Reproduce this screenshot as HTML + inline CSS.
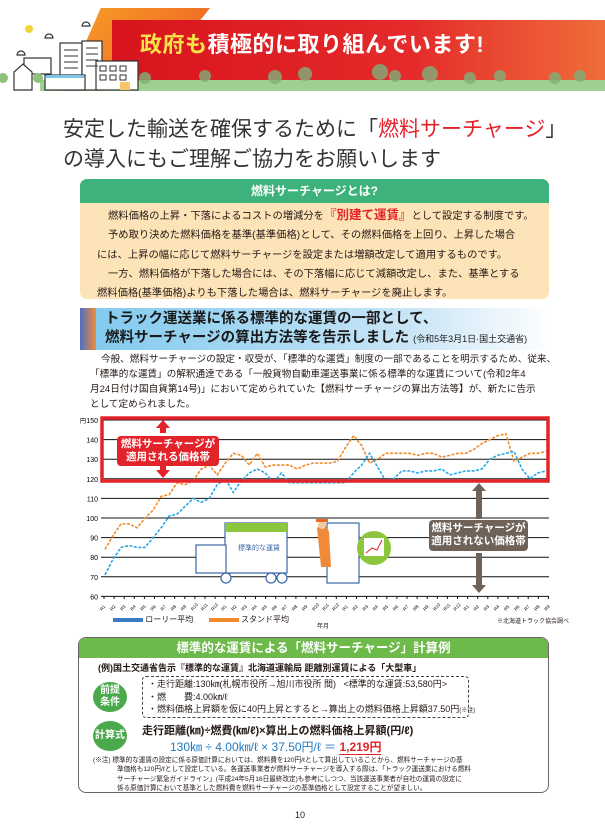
<!DOCTYPE html>
<html><head><meta charset="utf-8">
<style>
*{margin:0;padding:0;box-sizing:border-box}
body{width:605px;height:839px;background:#fff;position:relative;overflow:hidden;font-family:"Liberation Sans","Noto Sans CJK JP",sans-serif;color:#231815}
.a{position:absolute}
.p{font-size:10.3px;line-height:19.3px;white-space:nowrap}
</style></head><body>

<!-- header banner -->
<div class="a" style="left:40px;top:80px;width:565px;height:11px;background:#9fd08f"></div>
<div class="a" style="left:70px;top:8px;width:140px;height:70px;background:linear-gradient(135deg,#f7a027,#ee5a24);clip-path:polygon(22% 0,100% 0,60% 100%,0 100%)"></div>
<div class="a" style="left:112px;top:20px;width:493px;height:60px;background:linear-gradient(90deg,#d7141d,#e42a2a 60%,#ef6d3a)"></div>
<div class="a" style="left:140px;top:27px;font-size:22px;font-weight:bold;color:#fff;letter-spacing:0.5px;white-space:nowrap"><span style="color:#f5e34a">政府も</span>積極的に取り組んでいます!</div>
<svg class="a" style="left:0;top:0" width="605" height="95">
 <g fill="#7fb07a" opacity="0.8">
  <circle cx="145" cy="78" r="6"/><circle cx="205" cy="76" r="6"/><circle cx="275" cy="77" r="7"/><circle cx="305" cy="74" r="7"/><circle cx="380" cy="72" r="8"/><circle cx="395" cy="76" r="6"/><circle cx="430" cy="74" r="8"/><circle cx="470" cy="78" r="6"/><circle cx="500" cy="76" r="6"/><circle cx="555" cy="78" r="6"/><circle cx="580" cy="76" r="6"/>
 </g>
 <circle cx="29" cy="29" r="4" fill="#f2d33c"/>
 <path d="M45 38 a4 4 0 0 1 8 0z M17 55 a4 4 0 0 1 8 0z M82 26 a4 4 0 0 1 8 0z" fill="none" stroke="#333" stroke-width="1.2"/>
 <g fill="#fff" stroke="#333" stroke-width="1.2">
  <rect x="60" y="43" width="22" height="47"/><rect x="82" y="41" width="20" height="49"/>
  <rect x="24" y="58" width="27" height="16"/><path d="M14 90 v-18 l9 -8 l9 8 v18z"/>
  <rect x="45" y="75" width="40" height="15"/><rect x="96" y="61" width="42" height="29"/>
 </g>
 <g stroke="#333" stroke-width="1"><path d="M64 50h14M64 56h14M64 62h14M64 68h14M86 48h12M86 54h12M86 60h12M86 66h12"/></g>
 <g fill="none" stroke="#333" stroke-width="1"><rect x="100" y="66" width="6" height="5"/><rect x="110" y="66" width="6" height="5"/><rect x="120" y="66" width="6" height="5"/><rect x="100" y="75" width="6" height="5"/><rect x="110" y="75" width="6" height="5"/><rect x="120" y="75" width="6" height="5"/></g>
 <rect x="46" y="75" width="38" height="3" fill="#7ec3e8"/>
 <rect x="120" y="82" width="10" height="8" fill="#f7c66b"/>
 <circle cx="3" cy="78" r="5" fill="#8cc27a"/><circle cx="38" cy="78" r="5" fill="#8cc27a"/>
</svg>

<!-- subtitle -->
<div class="a" style="left:63px;top:115px;font-size:21px;line-height:30px;white-space:nowrap;color:#333">安定した輸送を確保するために「<span style="color:#e3232a">燃料サーチャージ</span>」<br>の導入にもご理解ご協力をお願いします</div>

<!-- box 1 -->
<div class="a" style="left:80px;top:179px;width:469px;height:120px;background:#fde3b8;border-radius:7px;overflow:hidden">
 <div style="height:24px;background:#3eb27b;color:#fff;font-weight:bold;font-size:12px;text-align:center;line-height:24px">燃料サーチャージとは?</div>
 <div class="p" style="padding:3px 0 0 17px;font-size:10.3px">
  <div style="padding-left:11px">燃料価格の上昇・下落によるコストの増減分を<b style="color:#e3232a;font-size:12.5px">『別建て運賃』</b>として設定する制度です。</div>
  <div style="padding-left:11px">予め取り決めた燃料価格を基準(基準価格)として、その燃料価格を上回り、上昇した場合</div>
  <div>には、上昇の幅に応じて燃料サーチャージを設定または増額改定して適用するものです。</div>
  <div style="padding-left:11px">一方、燃料価格が下落した場合には、その下落幅に応じて減額改定し、また、基準とする</div>
  <div>燃料価格(基準価格)よりも下落した場合は、燃料サーチャージを廃止します。</div>
 </div>
</div>

<!-- section heading -->
<div class="a" style="left:80px;top:308px;width:472px;height:42px;background:linear-gradient(90deg,#7fc9ee,#c9e5f6 70%,#fff)"></div>
<div class="a" style="left:80px;top:308px;width:16px;height:42px;background:linear-gradient(90deg,#4f6fc0,#f28a3a)"></div>
<div class="a" style="left:105px;top:310px;font-size:14.5px;font-weight:bold;line-height:19px;white-space:nowrap;color:#1a1a1a">トラック運送業に係る標準的な運賃の一部として、<br>燃料サーチャージの算出方法等を告示しました <span style="font-size:9px;font-weight:normal">(令和5年3月1日·国土交通省)</span></div>

<div class="a" style="left:90px;top:352px;font-size:9.6px;line-height:15px;white-space:nowrap">
<div style="padding-left:11px">今般、燃料サーチャージの設定・収受が、「標準的な運賃」制度の一部であることを明示するため、従来、</div>
<div>「標準的な運賃」の解釈通達である「一般貨物自動車運送事業に係る標準的な運賃について(令和2年4</div>
<div>月24日付け国自貨第14号)」において定められていた【燃料サーチャージの算出方法等】が、新たに告示</div>
<div>として定められました。</div>
</div>

<!-- chart -->
<svg id="ch" class="a" style="left:0;top:0" width="605" height="640"></svg>
<div class="a" style="left:117px;top:436px;width:102px;height:30px;background:#e3232a;border-radius:4px;color:#fff;font-weight:bold;font-size:10.5px;line-height:13px;text-align:center;padding-top:2px">燃料サーチャージが<br>適用される価格帯</div>
<div class="a" style="left:429px;top:520px;width:99px;height:31px;background:#6e6259;border-radius:4px;color:#fff;font-weight:bold;font-size:10.5px;line-height:13px;text-align:center;padding-top:2px">燃料サーチャージが<br>適用されない価格帯</div>

<!-- legend -->
<div class="a" style="left:113px;top:614px;font-size:8px;white-space:nowrap"><span style="display:inline-block;width:30px;height:4px;background:#3a7cc4;vertical-align:middle"></span> ローリー平均 &nbsp;&nbsp;&nbsp;&nbsp;&nbsp; <span style="display:inline-block;width:30px;height:4px;background:#f08a2a;vertical-align:middle"></span> スタンド平均</div>
<div class="a" style="left:317px;top:621px;font-size:6px">年月</div>
<div class="a" style="left:497px;top:616px;font-size:6px">※北海道トラック協会調べ</div>

<!-- box 2 -->
<div class="a" style="left:78px;top:637px;width:471px;height:156px;border:1.5px solid #666;border-radius:8px;overflow:hidden">
 <div style="height:20px;background:#6db94a;color:#fff;font-weight:bold;font-size:12.5px;text-align:center;line-height:20px">標準的な運賃による「燃料サーチャージ」計算例</div>
</div>
<div class="a" style="left:98px;top:661px;font-size:9px;font-weight:bold;white-space:nowrap">(例)国土交通省告示『標準的な運賃』北海道運輸局 距離別運賃による「大型車」</div>
<div class="a" style="left:93px;top:682px;width:34px;height:30px;border-radius:50%;background:#4aa94a;color:#fff;font-weight:bold;font-size:10px;line-height:12px;text-align:center;padding-top:3px">前提<br>条件</div>
<div class="a" style="left:142px;top:676px;width:327px;height:42px;border:1px dashed #444;border-radius:4px;font-size:9px;line-height:12.5px;padding:1px 0 0 5px;white-space:nowrap">
・走行距離:130㎞(札幌市役所→旭川市役所 間) &nbsp;&nbsp;<標準的な運賃:53,580円><br>・燃　　費:4.00㎞/ℓ<br>・燃料価格上昇額を仮に40円上昇とすると→算出上の燃料価格上昇額37.50円<span style="font-size:6px">(※注)</span></div>
<div class="a" style="left:93px;top:721px;width:34px;height:30px;border-radius:50%;background:#4aa94a;color:#fff;font-weight:bold;font-size:10px;line-height:30px;text-align:center">計算式</div>
<div class="a" style="left:142px;top:722px;font-size:11px;font-weight:bold;white-space:nowrap">走行距離(㎞)÷燃費(㎞/ℓ)×算出上の燃料価格上昇額(円/ℓ)</div>
<div class="a" style="left:170px;top:738px;font-size:12px;color:#1f7ac0;white-space:nowrap">130㎞ ÷ 4.00㎞/ℓ × 37.50円/ℓ ＝ <b style="color:#e3232a;border-bottom:1.5px solid #e3232a">1,219円</b></div>
<div class="a" style="left:93px;top:756px;font-size:6.6px;line-height:9.3px;white-space:nowrap">(※注) 標準的な運賃の設定に係る原価計算においては、燃料費を120円/ℓとして算出していることから、燃料サーチャージの基<br><span style="padding-left:24px">準価格も120円/ℓとして設定している。各運送事業者が燃料サーチャージを導入する際は、「トラック運送業における燃料</span><br><span style="padding-left:24px">サーチャージ緊急ガイドライン」(平成24年5月16日最終改定)も参考にしつつ、当該運送事業者が自社の運賃の設定に</span><br><span style="padding-left:24px">係る原価計算において基準とした燃料費を燃料サーチャージの基準価格として設定することが望ましい。</span></div>
<div class="a" style="left:295px;top:810px;font-size:9px">10</div>

<script>
var s=document.getElementById('ch'),h='';
function Y(v){return 420+(150-v)*1.96}
for(var v=60;v<=150;v+=10){h+='<line x1="101" x2="549" y1="'+Y(v)+'" y2="'+Y(v)+'" stroke="#111" stroke-width="1"/>';h+='<text x="98" y="'+(Y(v)+3)+'" font-size="7" text-anchor="end" font-family="Liberation Sans">'+v+'</text>';}
h+='<text x="80" y="423" font-size="6">円</text>';
for(var i=0;i<=44;i++){var x=104+i*10.1;h+='<line x1="'+x+'" x2="'+x+'" y1="596" y2="599" stroke="#111"/>';h+='<text transform="translate('+(x-2)+',611) rotate(-50)" font-size="4.5">R'+(i%12+1)+'</text>';}
var o=[84,91,97,97,95,100,104,111,112,118,117,119,125,127,122,128,133,132,127,133,126,127,127,127,125,127,128,128,128,129,136,142,137,128,130,133,133,133,133,132,133,133,131,132,133,133,135,138,140,142,143,129,131,133,133,134];
var b=[71,79,85,86,85,85,90,95,101,102,106,110,108,110,117,120,113,119,123,125,123,118,123,118,118,118,118,118,118,118,118,123,127,133,126,119,120,124,124,123,124,124,125,122,123,124,124,125,130,132,133,134,125,120,123,124];
function P(a){var r='';for(var i=0;i<a.length;i++)r+=(105+i*441/(a.length-1))+','+Y(a[i])+' ';return r}
h+='<polyline points="'+P(o)+'" fill="none" stroke="#f08a2a" stroke-width="1.6" stroke-dasharray="3 1.5"/>';
h+='<polyline points="'+P(b)+'" fill="none" stroke="#29a8e6" stroke-width="1.6" stroke-dasharray="3 1.5"/>';
h+='<rect x="102" y="418" width="446" height="63" fill="none" stroke="#e3232a" stroke-width="3.5"/>';
h+='<path d="M163 420 l-7 8 h4 v5 h6 v-5 h4z M163 478 l-7 -8 h4 v-5 h6 v5 h4z" fill="#e3232a"/>';
h+='<path d="M479 483 l-7 8 h4 v28 h6 v-28 h4z M479 593 l-7 -8 h4 v-32 h6 v32 h4z" fill="#6e6259"/>';
h+='<g fill="#fff" stroke="#3a67a8" stroke-width="1.2"><rect x="225" y="523" width="62" height="50"/><rect x="196" y="545" width="30" height="28"/><circle cx="226" cy="578" r="5"/><circle cx="271" cy="578" r="5"/><circle cx="282" cy="578" r="5"/><rect x="327" y="523" width="32" height="60"/></g>';
h+='<rect x="225" y="523" width="62" height="9" fill="#8cc63f"/>';
h+='<text x="238" y="550" font-size="7" fill="#3a67a8">標準的な運賃</text>';
h+='<path d="M317 528 q8 -8 12 4 l2 35 h-10z" fill="#ef8a3a"/><circle cx="322" cy="525" r="4" fill="#f4c8a0"/><path d="M316 522 h12 v-3 h-12z" fill="#e86a20"/>';
h+='<circle cx="374" cy="548" r="17" fill="#8cc63f"/><rect x="364" y="538" width="20" height="18" fill="#fff"/><polyline points="366,553 372,548 377,550 382,540" fill="none" stroke="#e3232a"/>';
s.innerHTML=h;
</script>
</body></html>
